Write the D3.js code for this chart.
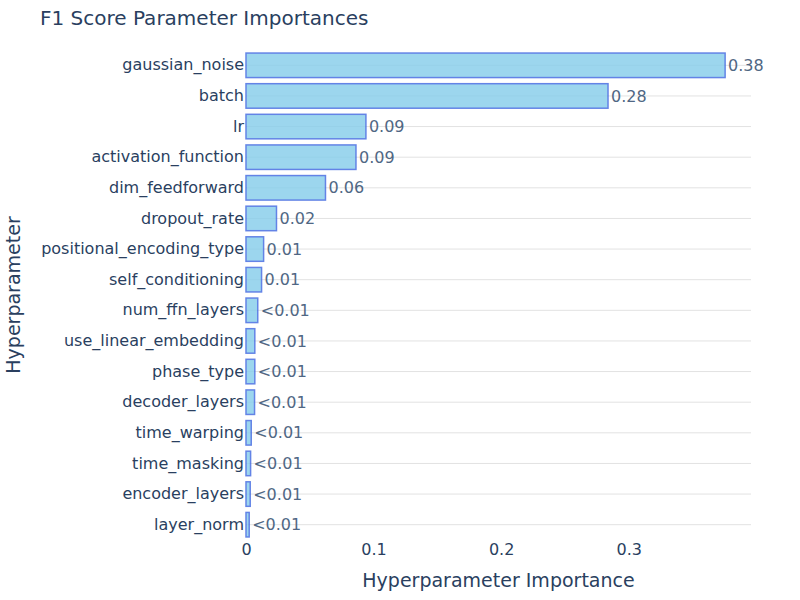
<!DOCTYPE html>
<html>
  <head>
    <meta charset="utf-8" />
    <style>
      body { margin: 0; background: #fff; }
      svg, svg text { font-family: "DejaVu Sans", Verdana, sans-serif; }
    </style>
  </head>
  <body>
    <svg id="chart"></svg>

    <script src="https://cdn.jsdelivr.net/npm/d3@7"></script>
    <script>
      // hyperparameters, top to bottom
      const params = [
        "gaussian_noise", "batch", "lr", "activation_function",
        "dim_feedforward", "dropout_rate", "positional_encoding_type",
        "self_conditioning", "num_ffn_layers", "use_linear_embedding",
        "phase_type", "decoder_layers", "time_warping", "time_masking",
        "encoder_layers", "layer_norm",
      ];
      const importances = [
        0.3756, 0.2838, 0.0940, 0.0862, 0.0623, 0.0239, 0.0138, 0.0122,
        0.0092, 0.0069, 0.0069, 0.0067, 0.0041, 0.0036, 0.0033, 0.0025,
      ];
      const xTicks = [0, 0.1, 0.2, 0.3];

      const data = params.map((name, i) => ({ name, value: importances[i] }));

      const width = 800;
      const height = 600;
      const marginTop = 50;
      const marginRight = 49;
      const marginBottom = 60;
      const marginLeft = 246;

      const svg = d3
        .select("#chart")
        .attr("width", width)
        .attr("height", height)
        .attr("viewBox", [0, 0, width, height]);

      const x = d3
        .scaleLinear()
        .domain([0, 0.3959])
        .range([marginLeft, width - marginRight]);

      const y = d3
        .scaleBand()
        .domain(params)
        .range([marginTop, height - marginBottom])
        .paddingInner(0.2)
        .paddingOuter(0.1);

      // horizontal grid lines at each category
      svg
        .append("g")
        .attr("stroke", "#e2e2e2")
        .selectAll()
        .data(params)
        .join("line")
        .attr("x1", marginLeft)
        .attr("x2", width - marginRight)
        .attr("y1", (d) => y(d) + y.bandwidth() / 2)
        .attr("y2", (d) => y(d) + y.bandwidth() / 2);

      // bars
      svg
        .append("g")
        .attr("opacity", 0.82)
        .selectAll()
        .data(data)
        .join("rect")
        .attr("x", x(0))
        .attr("y", (d) => y(d.name))
        .attr("width", (d) => x(d.value) - x(0))
        .attr("height", y.bandwidth())
        .attr("fill", "skyblue")
        .attr("stroke", "royalblue")
        .attr("stroke-width", 1.5);

      // value labels
      svg
        .append("g")
        .attr("font-size", 16)
        .attr("fill", "#506784")
        .selectAll()
        .data(data)
        .join("text")
        .attr("x", (d) => x(d.value) + 3)
        .attr("y", (d) => y(d.name) + y.bandwidth() / 2)
        .attr("dy", "0.35em")
        .text((d) => (d.value < 0.01 ? "<0.01" : d.value.toFixed(2)));

      // y axis
      svg
        .append("g")
        .attr("transform", `translate(${marginLeft},0)`)
        .call(d3.axisLeft(y).tickSize(0).tickPadding(2))
        .call((g) => g.attr("font-family", null).select(".domain").remove())
        .call((g) =>
          g.selectAll("text").attr("font-size", 16).attr("fill", "#2a3f5f")
        );

      // x axis
      svg
        .append("g")
        .attr("transform", `translate(0,${height - marginBottom})`)
        .call(
          d3
            .axisBottom(x)
            .tickValues(xTicks)
            .tickFormat((d) => (d === 0 ? "0" : d3.format(".1f")(d)))
            .tickSize(0)
            .tickPadding(4)
        )
        .call((g) => g.attr("font-family", null).select(".domain").remove())
        .call((g) =>
          g.selectAll("text").attr("font-size", 16).attr("fill", "#2a3f5f")
        );

      // titles
      svg
        .append("text")
        .attr("x", 40)
        .attr("y", 25)
        .attr("font-size", 20)
        .attr("fill", "#2a3f5f")
        .text("F1 Score Parameter Importances");

      svg
        .append("text")
        .attr("x", (marginLeft + width - marginRight) / 2)
        .attr("y", 587)
        .attr("text-anchor", "middle")
        .attr("font-size", 19)
        .attr("fill", "#2a3f5f")
        .text("Hyperparameter Importance");

      svg
        .append("text")
        .attr("transform", `translate(20,${(marginTop + height - marginBottom) / 2}) rotate(-90)`)
        .attr("text-anchor", "middle")
        .attr("font-size", 19)
        .attr("fill", "#2a3f5f")
        .text("Hyperparameter");
    </script>
  </body>
</html>
